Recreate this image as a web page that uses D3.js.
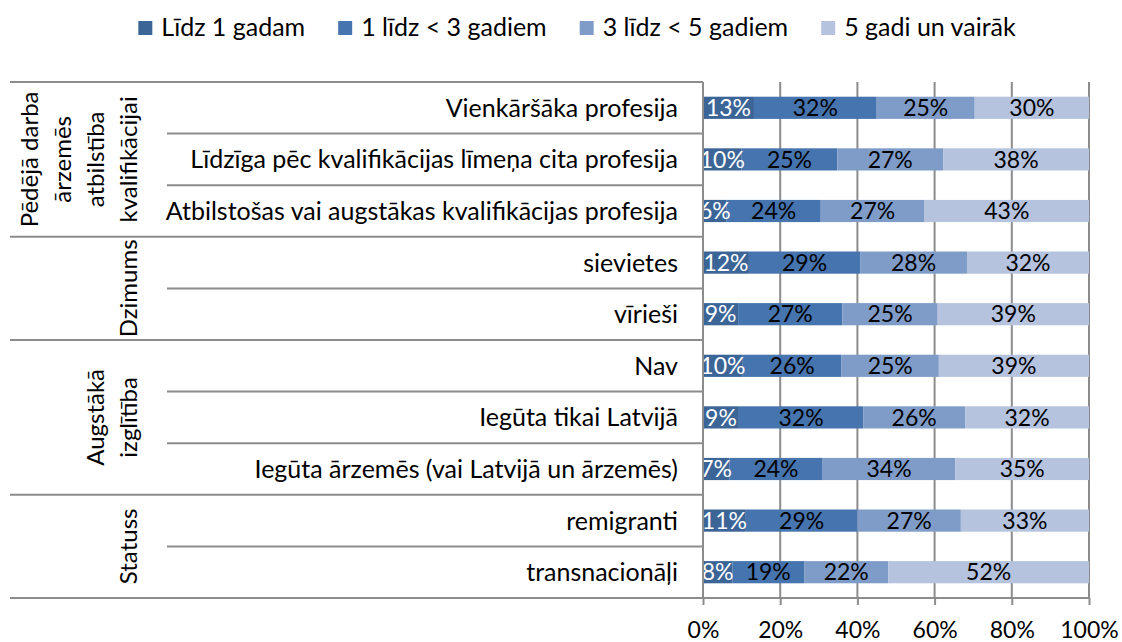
<!DOCTYPE html>
<html>
<head>
<meta charset="utf-8">
<script src="https://cdn.jsdelivr.net/npm/d3@7"></script>
<style>
  body { margin: 0; background: #fff; }
  text { font-family: Lato, "Open Sans", sans-serif; fill: #000; }
</style>
</head>
<body>
<div id="chart"></div>
<script>
// categories, top to bottom
const categories = [
  'Vienkāršāka profesija',
  'Līdzīga pēc kvalifikācijas līmeņa cita profesija',
  'Atbilstošas vai augstākas kvalifikācijas profesija',
  'sievietes',
  'vīrieši',
  'Nav',
  'Iegūta tikai Latvijā',
  'Iegūta ārzemēs (vai Latvijā un ārzemēs)',
  'remigranti',
  'transnacionāļi'
]

// outer grouping (label lines, number of categories in the group)
const groupLabels = [
  ['Pēdējā darba', 'ārzemēs', 'atbilstība', 'kvalifikācijai'],
  ['Dzimums'],
  ['Augstākā', 'izglītība'],
  ['Statuss']
]
const groupSizes = [3, 2, 3, 2]

const seriesNames = ['Līdz 1 gadam', '1 līdz < 3 gadiem', '3 līdz < 5 gadiem', '5 gadi un vairāk']
const seriesColors = ['#3b6497', '#4674ae', '#7f9cc8', '#b5c3df']

// shares, %
const upTo1 = [13.2, 10.0, 6.1, 11.9, 9.1, 10.3, 9.3, 6.8, 11.1, 7.6]
const from1to3 = [31.8, 24.8, 24.4, 28.8, 27.0, 25.6, 32.2, 24.2, 28.9, 18.6]
const from3to5 = [25.4, 27.4, 26.9, 27.7, 24.7, 25.2, 26.4, 34.4, 26.8, 21.8]
const from5 = [29.6, 37.8, 42.6, 31.6, 39.2, 38.9, 32.1, 34.6, 33.2, 52.0]

const xTicks = [0, 20, 40, 60, 80, 100]

const width = 1122, height = 642
const labelSize = 25, groupSize = 24, valueSize = 23, tickSize = 23
const grey = '#8c8c8c'

const svg = d3.select('#chart')
  .append('svg')
  .attr('width', width)
  .attr('height', height)

const plot = { left: 703, right: 1089, top: 82, bottom: 598 }
const labelLeft = 10, innerLeft = 167

const x = d3.scaleLinear().domain([0, 100]).range([plot.left, plot.right])
const y = d3.scaleBand()
  .domain(categories)
  .range([plot.top, plot.bottom])
  .paddingInner(0.57)
  .paddingOuter(0.285)

const table = categories.map((c, i) => ({
  cat: c,
  s0: upTo1[i], s1: from1to3[i], s2: from3to5[i], s3: from5[i]
}))
const stack = d3.stack().keys(['s0', 's1', 's2', 's3'])(table)

// gridlines
svg.append('g')
  .selectAll('line')
  .data(xTicks.slice(1))
  .join('line')
  .attr('x1', d => x(d)).attr('x2', d => x(d))
  .attr('y1', plot.top).attr('y2', plot.bottom)
  .attr('stroke', grey)
  .attr('stroke-width', 2)

// bars
const layers = svg.append('g')
  .selectAll('g')
  .data(stack)
  .join('g')
  .attr('fill', (d, i) => seriesColors[i])

layers.selectAll('rect')
  .data(d => d)
  .join('rect')
  .attr('x', d => x(d[0]))
  .attr('width', d => x(d[1]) - x(d[0]))
  .attr('y', d => y(d.data.cat))
  .attr('height', y.bandwidth())

// value labels, clipped at the axis
svg.append('clipPath').attr('id', 'plotClip')
  .append('rect')
  .attr('x', plot.left).attr('y', plot.top)
  .attr('width', plot.right - plot.left).attr('height', plot.bottom - plot.top)

svg.append('g')
  .attr('clip-path', 'url(#plotClip)')
  .selectAll('g')
  .data(stack)
  .join('g')
  .selectAll('text')
  .data((d, i) => d.map(v => ({ v, i })))
  .join('text')
  .attr('x', d => x((d.v[0] + d.v[1]) / 2))
  .attr('y', d => y(d.v.data.cat) + y.bandwidth() / 2)
  .attr('dy', '0.36em')
  .attr('text-anchor', 'middle')
  .style('font-size', valueSize + 'px')
  .style('fill', d => d.i === 0 ? '#fff' : '#000')
  .text(d => Math.round(d.v[1] - d.v[0]) + '%')

// y axis line
svg.append('line')
  .attr('x1', plot.left).attr('x2', plot.left)
  .attr('y1', plot.top).attr('y2', plot.bottom)
  .attr('stroke', grey).attr('stroke-width', 2)

// row separators of the category labels
const step = y.step()
const groupStarts = d3.cumsum([0, ...groupSizes]).slice(0, -1)
const bounds = d3.range(categories.length + 1).map(k => ({
  yy: plot.top + k * step,
  outer: k === categories.length || groupStarts.includes(k)
}))

svg.append('g')
  .selectAll('line')
  .data(bounds)
  .join('line')
  .attr('x1', d => d.outer ? labelLeft : innerLeft)
  .attr('x2', d => d.yy === plot.bottom ? plot.right : plot.left)
  .attr('y1', d => d.yy).attr('y2', d => d.yy)
  .attr('stroke', grey).attr('stroke-width', 2)

// category labels
svg.append('g')
  .selectAll('text')
  .data(categories)
  .join('text')
  .attr('x', plot.left - 25)
  .attr('y', d => y(d) + y.bandwidth() / 2)
  .attr('dy', '0.36em')
  .attr('text-anchor', 'end')
  .style('font-size', labelSize + 'px')
  .text(d => d)

// rotated group labels
const groupCols = svg.append('g')
groupLabels.forEach((lines, g) => {
  const top = plot.top + groupStarts[g] * step
  const cy = top + groupSizes[g] * step / 2
  lines.forEach((ln, j) => {
    const cx = 128 - (lines.length - 1 - j) * 33
    groupCols.append('text')
      .attr('transform', `translate(${cx},${cy}) rotate(-90)`)
      .attr('dy', '0.36em')
      .attr('text-anchor', 'middle')
      .style('font-size', groupSize + 'px')
      .text(ln)
  })
})

// x axis
const xAxis = svg.append('g')
  .attr('transform', `translate(0,${plot.bottom})`)
  .call(d3.axisBottom(x).tickValues(xTicks).tickFormat(d => d + '%').tickSize(7).tickPadding(17))
xAxis.select('.domain').remove()
xAxis.attr('font-family', null).attr('font-size', null)
xAxis.selectAll('line').attr('stroke', grey).attr('stroke-width', 2)
xAxis.selectAll('text').style('font-size', tickSize + 'px')

// legend
const legend = svg.append('g')
const items = legend.selectAll('g')
  .data(seriesNames)
  .join('g')
items.append('rect')
  .attr('width', 14).attr('height', 14)
  .attr('y', -15)
  .attr('fill', (d, i) => seriesColors[i])
items.append('text')
  .attr('x', 23)
  .attr('y', 0)
  .style('font-size', labelSize + 'px')
  .text(d => d)
const gap = 33
let pos = 0
items.each(function () {
  d3.select(this).attr('transform', `translate(${pos},0)`)
  pos += 23 + d3.select(this).select('text').node().getComputedTextLength() + gap
})
pos -= gap
legend.attr('transform', `translate(${577 - pos / 2},36)`)
</script>
</body>
</html>
